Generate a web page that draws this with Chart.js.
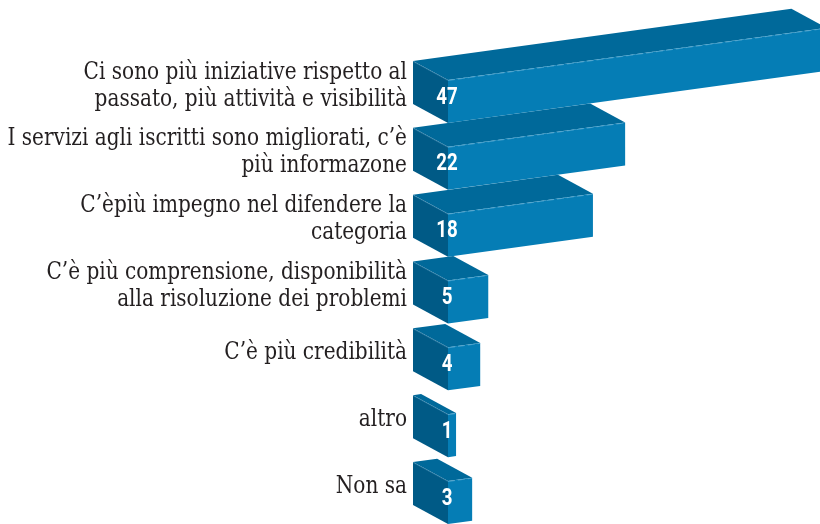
<!DOCTYPE html>
<html lang="it">
<head>
<meta charset="utf-8">
<title>Giudizi</title>
<script src="https://cdn.jsdelivr.net/npm/chart.js@4.4.1/dist/chart.umd.min.js"></script>
<style>
  html, body { margin: 0; padding: 0; background: #ffffff; }
  #wrap { width: 820px; height: 524px; }
</style>
</head>
<body>
<div id="wrap"><canvas id="risposteChart" width="820" height="524"></canvas></div>
<script>
// voci della domanda (una riga per elemento)
const categories = [
  ["Ci sono più iniziative rispetto al", "passato, più attività e visibilità"],
  ["I servizi agli iscritti sono migliorati, c’è", "più informazone"],
  ["C’èpiù impegno nel difendere la", "categoria"],
  ["C’è più comprensione, disponibilità", "alla risoluzione dei problemi"],
  ["C’è più credibilità"],
  ["altro"],
  ["Non sa"]
];
// percentuali
const values = [47, 22, 18, 5, 4, 1, 3];

// colori delle tre facce del parallelepipedo
const FRONT = "#057db5";
const TOP = "#00699a";
const SIDE = "#005a86";

const DEPTH_X = -35; // profondità verso sinistra
const DEPTH_Y = -19; // e verso l'alto
const SLOPE = 0.138; // inclinazione della faccia frontale

const bar3d = {
  id: "bar3d",
  beforeDatasetsDraw(chart) {
    const ctx = chart.ctx;
    const meta = chart.getDatasetMeta(0);
    ctx.save();
    // dal basso verso l'alto, così le barre superiori coprono le inferiori
    for (let i = meta.data.length - 1; i >= 0; i--) {
      const bar = meta.data[i];
      const x0 = bar.base;
      const x1 = bar.x;
      const top = bar.y - bar.height / 2;
      const bot = bar.y + bar.height / 2;
      const rise = (x1 - x0) * SLOPE;

      // faccia laterale
      ctx.fillStyle = SIDE;
      ctx.beginPath();
      ctx.moveTo(x0 + DEPTH_X, top + DEPTH_Y);
      ctx.lineTo(x0, top);
      ctx.lineTo(x0, bot);
      ctx.lineTo(x0 + DEPTH_X, bot + DEPTH_Y);
      ctx.closePath();
      ctx.fill();

      // faccia superiore
      ctx.fillStyle = TOP;
      ctx.beginPath();
      ctx.moveTo(x0 + DEPTH_X, top + DEPTH_Y);
      ctx.lineTo(x1 + DEPTH_X, top - rise + DEPTH_Y);
      ctx.lineTo(x1, top - rise);
      ctx.lineTo(x0, top);
      ctx.closePath();
      ctx.fill();

      // faccia frontale
      ctx.fillStyle = FRONT;
      ctx.beginPath();
      ctx.moveTo(x0, top);
      ctx.lineTo(x1, top - rise);
      ctx.lineTo(x1, bot - rise);
      ctx.lineTo(x0, bot);
      ctx.closePath();
      ctx.fill();

      // filo chiaro sugli spigoli
      ctx.strokeStyle = "rgba(140, 200, 230, 0.45)";
      ctx.lineWidth = 1;
      ctx.setLineDash([7, 3]);
      ctx.beginPath();
      ctx.moveTo(x0, top + 0.5);
      ctx.lineTo(x1, top - rise + 0.5);
      ctx.stroke();
      ctx.setLineDash([]);
      ctx.strokeStyle = "rgba(120, 180, 215, 0.3)";
      ctx.beginPath();
      ctx.moveTo(x0 + DEPTH_X, top + DEPTH_Y + 0.5);
      ctx.lineTo(x0, top + 0.5);
      ctx.stroke();
    }

    // etichette delle voci e valori
    const yScale = chart.scales.y;
    ctx.fillStyle = "#231f20";
    ctx.font = "24px 'DejaVu Serif Condensed', 'DejaVu Serif', serif";
    ctx.textAlign = "right";
    ctx.textBaseline = "alphabetic";
    categories.forEach((lines, i) => {
      const yc = yScale.getPixelForValue(i) - 16 + 6.5;
      const first = yc - (lines.length - 1) * 13.5;
      lines.forEach((line, k) => {
        ctx.save();
        ctx.translate(407, first + k * 27);
        ctx.scale(0.93, 1);
        ctx.fillText(line, 0, 0);
        ctx.restore();
      });
    });

    ctx.fillStyle = "#ffffff";
    ctx.font = "bold 24px Roboto, 'DejaVu Sans', sans-serif";
    ctx.textAlign = "center";
    ctx.textBaseline = "middle";
    meta.data.forEach((bar, i) => {
      ctx.save();
      ctx.translate(bar.base - 1, bar.y - 4);
      ctx.scale(0.78, 1);
      ctx.fillText(String(values[i]), 0, 0);
      ctx.restore();
    });
    ctx.restore();
    return false;
  }
};

new Chart(document.getElementById("risposteChart"), {
  type: "bar",
  data: {
    labels: categories,
    datasets: [{
      data: values,
      backgroundColor: FRONT,
      barThickness: 43
    }]
  },
  options: {
    indexAxis: "y",
    responsive: false,
    animation: false,
    layout: { padding: { left: 448, right: 0, top: 101.5, bottom: 21.5 } },
    scales: {
      x: { type: "linear", min: 0, max: 46.2, display: false },
      y: { type: "category", offset: false, display: false }
    },
    plugins: {
      legend: { display: false },
      tooltip: { enabled: false }
    }
  },
  plugins: [bar3d]
});
</script>
</body>
</html>
